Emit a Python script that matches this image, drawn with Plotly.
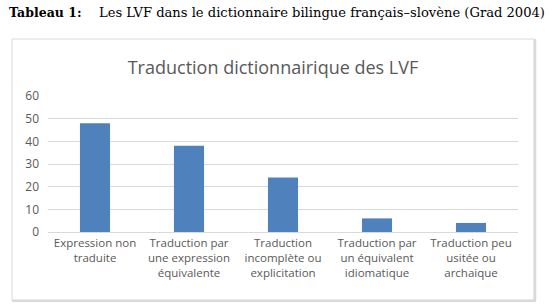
import plotly.graph_objects as go

categories = [
    "Expression non<br>traduite",
    "Traduction par<br>une expression<br>équivalente",
    "Traduction<br>incomplète ou<br>explicitation",
    "Traduction par<br>un équivalent<br>idiomatique",
    "Traduction peu<br>usitée ou<br>archaique",
]
values = [48, 38, 24, 6, 4]
y_ticks = [0, 10, 20, 30, 40, 50, 60]

chart_title = "Traduction dictionnairique des LVF"
caption_bold = "Tableau 1:"
caption_text = "Les LVF dans le dictionnaire bilingue français–slovène (Grad 2004)"

W, H = 554, 305
L, R, T, B = 48, 36, 96, 73
pw = W - L - R
ph = H - T - B

def px_x(px):
    return (px - L) / pw

def px_y(py):
    return (H - B - py) / ph

fig = go.Figure()
fig.add_trace(go.Bar(
    x=categories, y=values,
    marker=dict(color="#4f81bd", line=dict(width=0)),
    hoverinfo="x+y",
))

frame_l, frame_r, frame_t, frame_b = 12, 534, 39, 300

fig.update_layout(
    width=W, height=H,
    margin=dict(l=L, r=R, t=T, b=B, pad=0),
    paper_bgcolor="white", plot_bgcolor="white",
    bargap=0.68,
    showlegend=False,
    title=dict(
        text=chart_title, x=(frame_l + frame_r) / 2 / W, xref="container",
        xanchor="center",
        y=1 - 68 / H, yref="container", yanchor="middle",
        font=dict(family="Open Sans", size=18, color="#595959"),
    ),
    font=dict(family="Open Sans", size=11.5, color="#595959"),
    xaxis=dict(
        showgrid=False, showline=True, linecolor="#d9d9d9", linewidth=1,
        ticks="", tickfont=dict(size=11.5, color="#595959"),
        tickangle=0,
    ),
    yaxis=dict(
        range=[0, 60], tickvals=y_ticks, showgrid=True, gridcolor="#d9d9d9",
        gridwidth=1, zeroline=False, showline=False, ticks="",
        tickfont=dict(size=12, color="#595959"), ticklabelstandoff=8,
    ),
    shapes=[
        dict(type="rect", xref="paper", yref="paper",
             x0=px_x(frame_l), x1=px_x(frame_r), y0=px_y(frame_b), y1=px_y(frame_t),
             line=dict(color="#d9d9d9", width=1), fillcolor="rgba(0,0,0,0)",
             layer="below"),
        dict(type="line", xref="paper", yref="paper",
             x0=px_x(frame_r + 1), x1=px_x(frame_r + 1),
             y0=px_y(frame_b + 1), y1=px_y(frame_t),
             line=dict(color="#d9d9d9", width=2.5), layer="below"),
        dict(type="line", xref="paper", yref="paper",
             x0=px_x(frame_l), x1=px_x(frame_r + 2),
             y0=px_y(frame_b + 1), y1=px_y(frame_b + 1),
             line=dict(color="#d9d9d9", width=2), layer="below"),
    ],
    annotations=[
        dict(text="<b>" + caption_bold + "</b>", xref="paper", yref="paper",
             x=px_x(7), y=px_y(12), xanchor="left", yanchor="middle",
             showarrow=False,
             font=dict(family="DejaVu Serif", size=12.5, color="#000000")),
        dict(text=caption_text, xref="paper", yref="paper",
             x=px_x(97), y=px_y(12), xanchor="left", yanchor="middle",
             showarrow=False,
             font=dict(family="DejaVu Serif", size=13.1, color="#000000")),
    ],
)

fig.write_html(
    "out.html",
    config={"displayModeBar": False},
    post_script="document.body.style.margin='0';document.body.style.overflow='hidden';",
)
